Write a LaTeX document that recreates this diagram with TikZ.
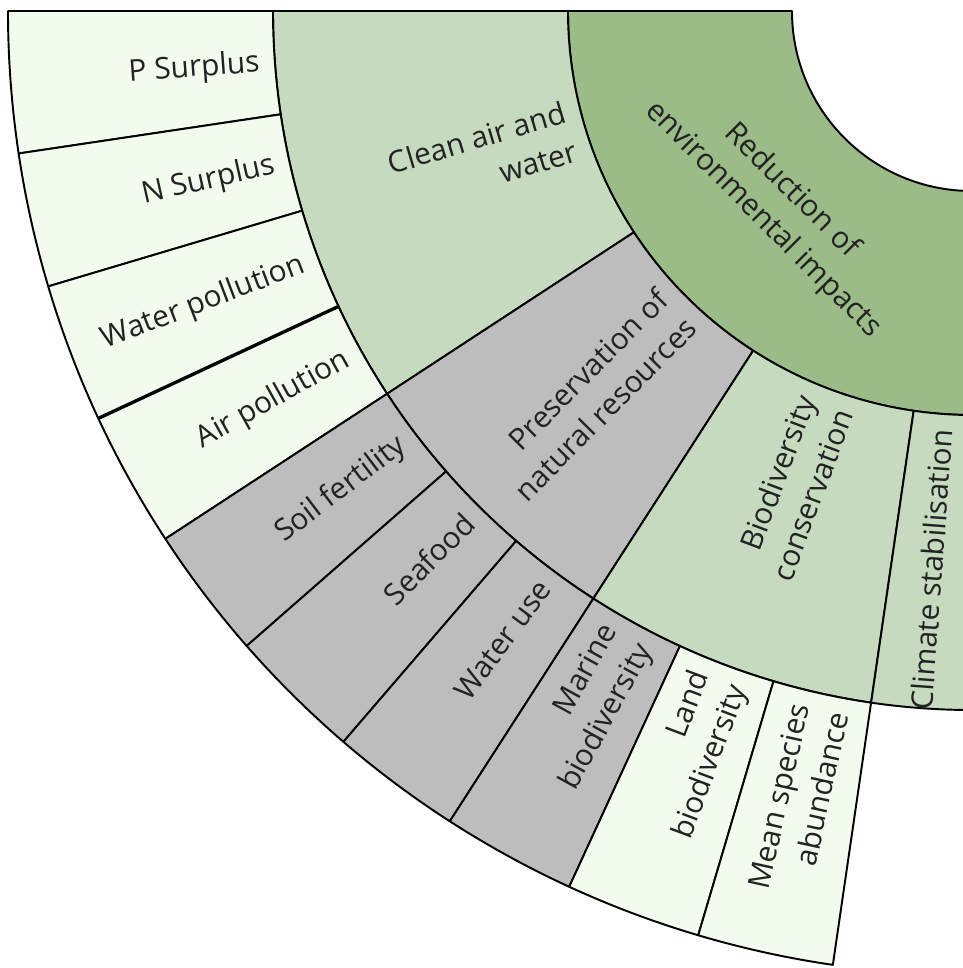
\documentclass[tikz,border=0pt]{standalone}
\usepackage{fontspec}
\setmainfont{Open Sans}

\definecolor{leafgreen}{HTML}{F3FBEE}
\definecolor{midgreen}{HTML}{C6DAC0}
\definecolor{darkgreen}{HTML}{9BBB89}
\definecolor{resgrey}{HTML}{BDBDBD}
\definecolor{inkgrey}{HTML}{222222}

\tikzset{
  seg/.style={draw=black, line width=1.1pt, line join=round},
  lbl/.style={text=inkgrey, font=\fontsize{17}{23}\selectfont, inner sep=0pt, anchor=east, align=right},
  midlbl/.style={text=inkgrey, font=\fontsize{17}{23}\selectfont, inner sep=0pt, align=center}
}

\begin{document}
\begin{tikzpicture}[x=0.02cm,y=0.02cm]

\clip (-972,-957) rectangle (-9,11);

% -------------------------------------------------
% Inner ring
% -------------------------------------------------
\filldraw[seg, fill=darkgreen] (180:180) arc[start angle=180, end angle=270, radius=180]
  -- (270:404) arc[start angle=270, end angle=180, radius=404] -- cycle;

% -------------------------------------------------
% Middle ring
% -------------------------------------------------
\foreach \a/\b/\col in {0/33.2/midgreen, 33.2/57.2/resgrey, 57.2/81.7/midgreen, 81.7/90/midgreen}
  \filldraw[seg, fill=\col] (180+\a:404) arc[start angle=180+\a, end angle=180+\b, radius=404]
    -- (180+\b:699) arc[start angle=180+\b, end angle=180+\a, radius=699] -- cycle;

% -------------------------------------------------
% Outer ring
% -------------------------------------------------
\foreach \a/\b/\col in {0/8.5/leafgreen, 8.5/16.6/leafgreen, 16.6/25/leafgreen, 25/33.2/leafgreen,
    33.2/41.2/resgrey, 41.2/49.3/resgrey, 49.3/57.2/resgrey, 57.2/65.3/resgrey,
    65.3/73.5/leafgreen, 73.5/81.7/leafgreen}
  \filldraw[seg, fill=\col] (180+\a:699) arc[start angle=180+\a, end angle=180+\b, radius=699]
    -- (180+\b:964) arc[start angle=180+\b, end angle=180+\a, radius=964] -- cycle;

\draw[line width=1.9pt] (205:699) -- (205:964); % trait epais

% -------------------------------------------------
% Labels
% -------------------------------------------------
\node[midlbl, rotate=-45] (reduction) at (225:275) {Reduction of\\environmental impacts};

\foreach \a/\b/\txt/\nm in {0/33.2/{Clean air and\\water}/cleanair,
    33.2/57.2/{Preservation of\\natural resources}/preserv,
    57.2/81.7/{Biodiversity\\conservation}/biodiv,
    81.7/90/{Climate stabilisation}/climate}
  \node[lbl, rotate={(\a+\b)/2}] (\nm) at ({180+(\a+\b)/2}:419) {\txt};

\foreach \a/\b/\txt/\nm in {0/8.5/{P Surplus}/psurplus, 8.5/16.6/{N Surplus}/nsurplus,
    16.6/25/{Water pollution}/waterpoll, 25/33.2/{Air pollution}/airpoll,
    33.2/41.2/{Soil fertility}/soil, 41.2/49.3/{Seafood}/seafood,
    49.3/57.2/{Water use}/wateruse, 57.2/65.3/{Marine\\biodiversity}/marine,
    65.3/73.5/{Land\\biodiversity}/land, 73.5/81.7/{Mean species\\abundance}/msa}
  \node[lbl, rotate={(\a+\b)/2}] (\nm) at ({180+(\a+\b)/2}:714) {\txt};

\end{tikzpicture}
\end{document}
